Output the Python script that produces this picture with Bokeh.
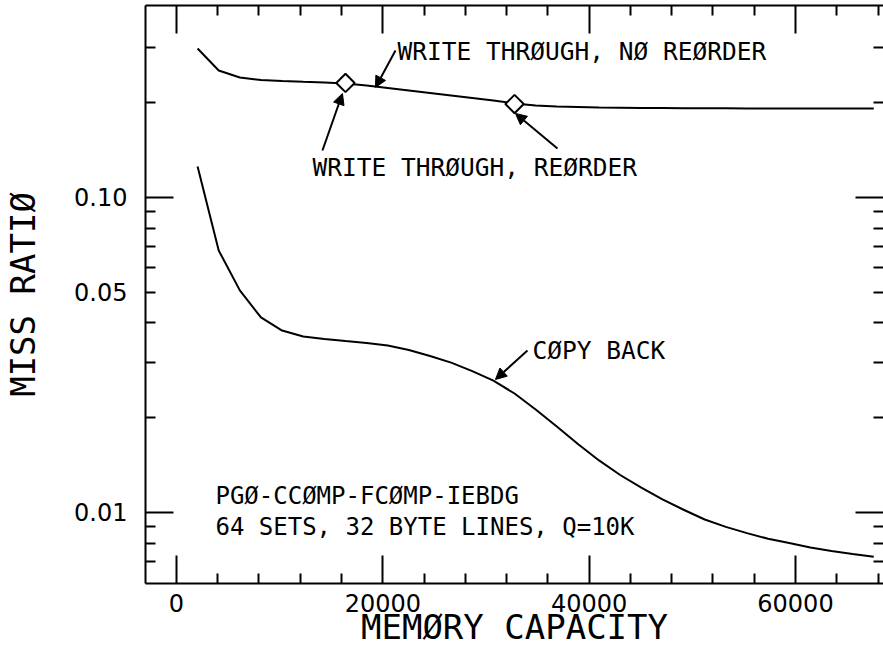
from bokeh.plotting import figure
from bokeh.models import (FixedTicker, LinearAxis, LogAxis, Arrow, NormalHead,
                          Label, Range1d, NumeralTickFormatter, CustomLabelingPolicy,
                          CustomJSTickFormatter)
from bokeh.embed import file_html
from bokeh.resources import INLINE

# ---------------- data ----------------
capacity = [2048, 4096, 6144, 8192, 10240, 12288, 14336, 16384, 18432, 20480,
            22528, 24576, 26624, 28672, 30720, 32768, 34816, 36864, 38912, 40960,
            43008, 45056, 47104, 49152, 51200, 53248, 55296, 57344, 59392, 61440,
            63488, 65536, 67584]
copy_back = [0.1254, 0.0679, 0.0507, 0.0416, 0.0378, 0.0362, 0.03555, 0.0350, 0.0345, 0.0339,
             0.0328, 0.0314, 0.0299, 0.0281, 0.0262, 0.02386, 0.02123, 0.01875, 0.0165, 0.01463,
             0.01315, 0.0120, 0.0110, 0.0102, 0.0095, 0.0090, 0.0086, 0.00825, 0.0080, 0.00774,
             0.00754, 0.00738, 0.00723]
wt_no_reorder = [0.2972, 0.2530, 0.2404, 0.2360, 0.2343, 0.2329, 0.2317, 0.2300, 0.2267, 0.2226,
                 0.2186, 0.2146, 0.2107, 0.2069, 0.2032, 0.1988, 0.1959, 0.1945, 0.1938, 0.1931,
                 0.1928, 0.1925, 0.1923, 0.1921, 0.1920, 0.1919, 0.1918, 0.1918, 0.1917, 0.1917,
                 0.1916, 0.1916, 0.1916]
reorder_capacity = [16384, 32768]
wt_reorder = [0.231, 0.198]

x_major = [0, 20000, 40000, 60000]
x_minor = [4000, 8000, 12000, 16000, 24000, 28000, 32000, 36000,
           44000, 48000, 52000, 56000, 64000, 68000]
y_major = [0.01, 0.1]
y_minor = [0.007, 0.008, 0.009, 0.02, 0.03, 0.04, 0.05, 0.06, 0.07, 0.08, 0.09, 0.2, 0.3]
y_labels = [0.01, 0.05, 0.1]

MONO = "DejaVu Sans Mono"
SANS = "DejaVu Sans"

p = figure(width=883, height=653, y_axis_type="log",
           x_range=Range1d(-3000, 68530), y_range=Range1d(0.00595, 0.4069),
           output_backend="svg", toolbar_location=None,
           min_border_left=145, min_border_right=0, min_border_top=5, min_border_bottom=70)
p.background_fill_color = "white"
p.border_fill_color = "white"
p.outline_line_color = None
p.grid.visible = False

xticker = FixedTicker(ticks=x_major, minor_ticks=x_minor)
yticker = FixedTicker(ticks=y_major, minor_ticks=y_minor)
no_labels = CustomLabelingPolicy(code="return new Set()")
blank = CustomJSTickFormatter(code="return ''")


def style(ax):
    ax.axis_line_color = "black"
    ax.axis_line_width = 2
    ax.major_tick_line_color = "black"
    ax.major_tick_line_width = 2
    ax.minor_tick_line_color = "black"
    ax.minor_tick_line_width = 2
    ax.major_tick_in = 28
    ax.major_tick_out = 0
    ax.minor_tick_in = 10
    ax.minor_tick_out = 0


# bottom axis
xa = p.xaxis[0]
xa.ticker = xticker
style(xa)
xa.major_label_text_font = SANS
xa.major_label_text_font_size = "24px"
xa.major_label_text_color = "black"
xa.major_label_standoff = 10
xa.axis_label = "MEMØRY CAPACITY"
xa.axis_label_text_font = MONO
xa.axis_label_text_font_size = "34px"
xa.axis_label_text_font_style = "normal"
xa.axis_label_text_color = "black"
xa.axis_label_standoff = -8

# inner left axis: ticks only (long at 0.01 / 0.1, short elsewhere)
ya = p.yaxis[0]
ya.ticker = yticker
style(ya)
ya.formatter = blank
ya.major_label_policy = no_labels
ya.major_label_standoff = 0

# outer left axis: the tick labels and the title
yl = LogAxis(ticker=FixedTicker(ticks=y_labels, minor_ticks=[]),
             formatter=NumeralTickFormatter(format="0.00"))
yl.axis_line_color = None
yl.major_tick_line_color = None
yl.minor_tick_line_color = None
yl.major_tick_in = 0
yl.major_tick_out = 0
yl.minor_tick_in = 0
yl.minor_tick_out = 0
yl.major_label_text_font = SANS
yl.major_label_text_font_size = "24px"
yl.major_label_text_color = "black"
yl.major_label_standoff = 18
yl.axis_label = "MISS RATIØ"
yl.axis_label_text_font = MONO
yl.axis_label_text_font_size = "34px"
yl.axis_label_text_font_style = "normal"
yl.axis_label_text_color = "black"
yl.axis_label_standoff = 28
p.add_layout(yl, "left")

top = LinearAxis(ticker=xticker, formatter=blank, major_label_policy=no_labels,
                 major_label_standoff=0)
style(top)
p.add_layout(top, "above")

right = LogAxis(ticker=yticker, formatter=blank, major_label_policy=no_labels,
                major_label_standoff=0)
style(right)
right.axis_line_color = None
p.add_layout(right, "right")

# ---------------- curves ----------------
p.line(capacity, wt_no_reorder, line_color="black", line_width=2)
p.line(capacity, copy_back, line_color="black", line_width=2)
p.scatter(reorder_capacity, wt_reorder, marker="square", angle=0.785398, size=13,
          fill_color="white", line_color="black", line_width=2)


# ---------------- annotations ----------------
def arrow(xs, ys, xe, ye):
    p.add_layout(Arrow(end=NormalHead(size=11, fill_color="black", line_color="black", line_width=1),
                       x_start=xs, y_start=ys, x_end=xe, y_end=ye,
                       line_color="black", line_width=2))


def label(x, y, t, size="24.5px"):
    p.add_layout(Label(x=x, y=y, text=t, text_align="left", text_baseline="middle",
                       text_font=MONO, text_font_size=size, text_color="black"))


label(21420, 0.2907, "WRITE THRØUGH, NØ REØRDER")
arrow(21230, 0.2929, 19290, 0.2235)
label(13180, 0.1245, "WRITE THRØUGH, REØRDER")
arrow(14150, 0.1410, 16090, 0.2139)
arrow(36930, 0.1431, 32860, 0.1848)
label(34510, 0.03268, "CØPY BACK")
arrow(34020, 0.03268, 30920, 0.02644)
label(3780, 0.01132, "PGØ-CCØMP-FCØMP-IEBDG", "24px")
label(3780, 0.00896, "64 SETS, 32 BYTE LINES, Q=10K", "24px")

open("out.html", "w").write(file_html(p, INLINE))
